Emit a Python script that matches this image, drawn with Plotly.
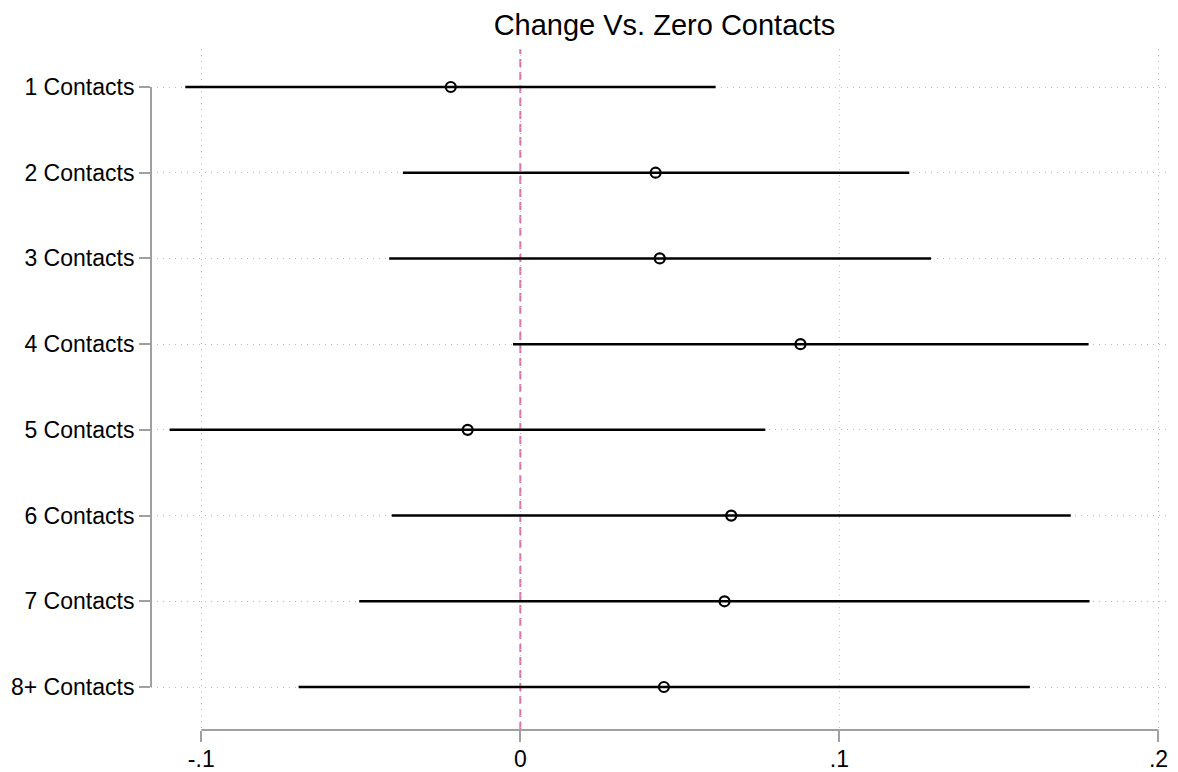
import plotly.graph_objects as go

categories = ["1 Contacts", "2 Contacts", "3 Contacts", "4 Contacts",
              "5 Contacts", "6 Contacts", "7 Contacts", "8+ Contacts"]
positions = [1, 2, 3, 4, 5, 6, 7, 8]
estimates = [-0.0218, 0.0424, 0.0437, 0.0878, -0.0165, 0.0661, 0.0640, 0.0450]
ci_low = [-0.1050, -0.0368, -0.0411, -0.0023, -0.1099, -0.0403, -0.0505, -0.0695]
ci_high = [0.0612, 0.1219, 0.1287, 0.1781, 0.0768, 0.1725, 0.1784, 0.1597]
x_ticks = [-0.1, 0, 0.1, 0.2]
x_tick_labels = ["-.1", "0", ".1", ".2"]

AXIS_GREY = "#a0a0a0"
GRID_GREY = "#bdbdbd"
FONT = "Liberation Sans, Arial, Helvetica, sans-serif"

err_plus = [h - e for h, e in zip(ci_high, estimates)]
err_minus = [e - l for e, l in zip(estimates, ci_low)]

fig = go.Figure()
fig.add_trace(go.Scatter(
    x=estimates, y=positions, mode="markers",
    marker=dict(symbol="circle-open", size=10, color="black",
                line=dict(width=2.2, color="black")),
    error_x=dict(type="data", symmetric=False, array=err_plus,
                 arrayminus=err_minus, width=0, thickness=2.5, color="black"),
    showlegend=False,
))

shapes = [
    # reference line at zero
    dict(type="line", xref="x", yref="paper", x0=0, x1=0, y0=0, y1=1,
         line=dict(color="#d870ad", width=2, dash="8px,5px"), layer="below"),
    # Stata-style x-axis line spanning tick range
    dict(type="line", xref="x", yref="paper", x0=x_ticks[0], x1=x_ticks[-1],
         y0=0, y1=0, line=dict(color=AXIS_GREY, width=2)),
    # Stata-style y-axis line spanning categories
    dict(type="line", xref="paper", yref="y", x0=0, x1=0,
         y0=positions[0], y1=positions[-1], line=dict(color=AXIS_GREY, width=2)),
]

# the page body adds an 8px offset; the figure is sized to fill the rest
fig.update_layout(
    width=1170, height=764,
    paper_bgcolor="white", plot_bgcolor="white",
    margin=dict(l=143, r=0, t=41, b=42, autoexpand=False),
    font=dict(family=FONT, size=23, color="black"),
    title=dict(text="Change Vs. Zero Contacts", x=0.5, xref="paper",
               y=1 - 17 / 764, yref="container", yanchor="middle",
               xanchor="center", font=dict(size=29, family=FONT, color="black")),
    shapes=shapes,
    xaxis=dict(
        range=[-0.11575, 0.20612], tickvals=x_ticks, ticktext=x_tick_labels,
        showgrid=True, gridcolor=GRID_GREY, griddash="1px,5px", gridwidth=1,
        zeroline=False, showline=False,
        ticks="outside", ticklen=11, tickwidth=2, tickcolor=AXIS_GREY,
        ticklabelstandoff=-3,
        tickfont=dict(size=23, family=FONT, color="black"), automargin=False,
    ),
    yaxis=dict(
        range=[8.5017, 0.5567], tickvals=positions, ticktext=categories,
        showgrid=True, gridcolor=GRID_GREY, griddash="1px,5px", gridwidth=1,
        zeroline=False, showline=False,
        ticks="outside", ticklen=11, tickwidth=2, tickcolor=AXIS_GREY,
        tickfont=dict(size=23, family=FONT, color="black"), automargin=False,
    ),
)

fig.write_html("out.html")
